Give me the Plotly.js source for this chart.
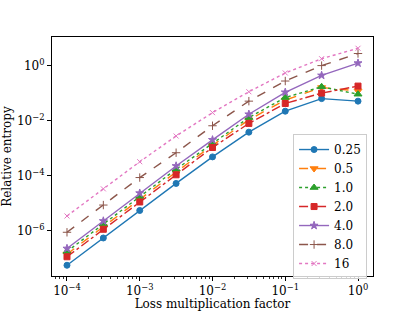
<!DOCTYPE html>
<html>
<head>
<meta charset="utf-8">
<script src="https://cdn.plot.ly/plotly-3.0.1.min.js"></script>
<style>html,body{margin:0;padding:0;background:#fff;}#chart{width:415px;height:311px;}</style>
</head>
<body>
<div id="chart"></div>
<script>
const lossFactor = [1e-4, 3.16e-4, 1e-3, 3.16e-3, 1e-2, 3.16e-2, 1e-1, 3.16e-1, 1];
const seriesNames = ["0.25", "0.5", "1.0", "2.0", "4.0", "8.0", "16"];
const s025 = [5.5e-8, 5.4e-7, 5.4e-6, 5.2e-5, 4.8e-4, 3.8e-3, 2.2e-2, 6.3e-2, 5.1e-2];
const s05  = [1.4e-7, 1.4e-6, 1.4e-5, 1.35e-4, 1.26e-3, 1.07e-2, 5.6e-2, 1.6e-1, 1.2e-1];
const s10  = [1.74e-7, 1.74e-6, 1.74e-5, 1.7e-4, 1.48e-3, 1.29e-2, 6.9e-2, 1.7e-1, 9.1e-2];
const s20  = [1.12e-7, 1.12e-6, 1.1e-5, 1.07e-4, 1.05e-3, 7.9e-3, 4.2e-2, 1.0e-1, 1.8e-1];
const s40  = [2.24e-7, 2.24e-6, 2.3e-5, 2.24e-4, 2.0e-3, 1.7e-2, 1.07e-1, 4.4e-1, 1.23];
const s80  = [8.7e-7, 8.5e-6, 8.5e-5, 6.8e-4, 6.5e-3, 5.1e-2, 2.75e-1, 1.0, 2.75];
const s16  = [3.4e-6, 3.3e-5, 3.2e-4, 2.75e-3, 1.95e-2, 1.12e-1, 5.4e-1, 1.78, 4.27];
const xTickVals = [1e-4, 1e-3, 1e-2, 1e-1, 1];
const xTickText = ["10<sup>−4</sup>", "10<sup>−3</sup>", "10<sup>−2</sup>", "10<sup>−1</sup>", "10<sup>0</sup>"];
const yTickVals = [1e-6, 1e-4, 1e-2, 1];
const yTickText = ["10<sup>−6</sup>", "10<sup>−4</sup>", "10<sup>−2</sup>", "10<sup>0</sup>"];

const allSeries = [s025, s05, s10, s20, s40, s80, s16];
const colors = ["#1f77b4", "#ff7f0e", "#2ca02c", "#d62728", "#9467bd", "#8c564b", "#e377c2"];
const dashes = ["solid", "dash", "dot", "dashdot", "solid", "dash", "dot"];
const symbols = ["circle", "triangle-down", "triangle-up", "square", "star", "cross-thin-open", "x-thin-open"];
const sizes = [6, 7, 7, 6, 6, 6, 5];

const traces = allSeries.map((ys, i) => ({
  x: lossFactor, y: ys, name: seriesNames[i], type: "scatter", mode: "lines+markers",
  line: {color: colors[i], width: 1.4, dash: dashes[i]},
  marker: {color: colors[i], symbol: symbols[i], size: sizes[i], line: {color: colors[i], width: 1}}
}));

const minorX = [];
for (let e = -5; e <= 0; e++) for (let d = 2; d <= 9; d++) minorX.push(d * Math.pow(10, e));

const font = {family: "DejaVu Serif", size: 12, color: "#000"};
const layout = {
  width: 415, height: 311,
  margin: {l: 52, r: 42, t: 37, b: 35},
  paper_bgcolor: "#fff", plot_bgcolor: "#fff",
  font: font,
  showlegend: true,
  legend: {x: 0.751, y: 0.594, xanchor: "left", yanchor: "top", bordercolor: "#cccccc", borderwidth: 1,
           bgcolor: "rgba(255,255,255,0.8)", font: {family: "DejaVu Serif", size: 12, color: "#000"},
           tracegroupgap: 0, itemwidth: 30},
  xaxis: {type: "log", range: [-4.206, 0.206], showgrid: false, zeroline: false,
          showline: true, mirror: true, linecolor: "#000", linewidth: 1,
          ticks: "outside", ticklen: 4, tickwidth: 1, tickcolor: "#000",
          tickmode: "array", tickvals: xTickVals, ticktext: xTickText,
          tickfont: {family: "DejaVu Serif", size: 12, color: "#000"},
          minor: {tickmode: "array", tickvals: minorX, ticks: "outside", ticklen: 2, tickwidth: 0.8, tickcolor: "#000", showgrid: false},
          title: {text: "Loss multiplication factor", font: {family: "DejaVu Serif", size: 12, color: "#000"}, standoff: 3}},
  yaxis: {type: "log", range: [-7.65, 1.04], showgrid: false, zeroline: false,
          showline: true, mirror: true, linecolor: "#000", linewidth: 1,
          ticks: "outside", ticklen: 4, tickwidth: 1, tickcolor: "#000",
          tickmode: "array", tickvals: yTickVals, ticktext: yTickText,
          tickfont: {family: "DejaVu Serif", size: 12, color: "#000"},
          title: {text: "Relative entropy", font: {family: "DejaVu Serif", size: 12, color: "#000"}, standoff: 3}}
};
Plotly.newPlot("chart", traces, layout, {displayModeBar: false, staticPlot: true});
</script>
</body>
</html>
